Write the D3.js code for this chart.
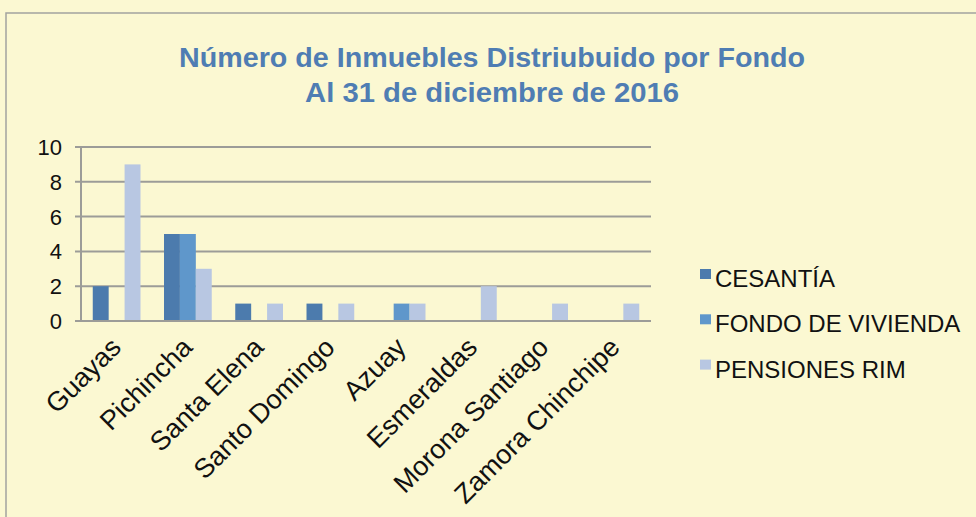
<!DOCTYPE html>
<html>
<head>
<meta charset="utf-8">
<script src="https://cdn.jsdelivr.net/npm/d3@7"></script>
<style>
  body { margin: 0; background: #fbf8d2; }
  svg { display: block; }
</style>
</head>
<body>
<svg width="976" height="517"></svg>
<script>
// Categories and series
var provinces = ["Guayas", "Pichincha", "Santa Elena", "Santo Domingo", "Azuay", "Esmeraldas", "Morona Santiago", "Zamora Chinchipe"];
var seriesNames = ["CESANTÍA", "FONDO DE VIVIENDA", "PENSIONES RIM"];
var cesantia = [2, 5, 1, 1, 0, 0, 0, 0];
var fondoVivienda = [0, 5, 0, 0, 1, 0, 0, 0];
var pensionesRim = [9, 3, 1, 1, 1, 2, 1, 1];
var yTicks = [0, 2, 4, 6, 8, 10];
var colors = ["#4c7bad", "#5f97cb", "#b8c7e2"];

var values = [cesantia, fondoVivienda, pensionesRim];

var svg = d3.select("svg");

// frame
svg.append("path")
  .attr("d", "M6,517 L6,13 L976,13")
  .attr("fill", "none")
  .attr("stroke", "#a3a3a0")
  .attr("stroke-width", 1.5);

// title
var title = [
  { text: "Número de Inmuebles Distriubuido por Fondo", y: 67, w: 626 },
  { text: "Al 31 de diciembre de 2016", y: 102, w: 374 }
];
svg.selectAll(".title").data(title).enter().append("text")
  .attr("class", "title")
  .attr("x", 492)
  .attr("y", function(d) { return d.y; })
  .attr("text-anchor", "middle")
  .attr("textLength", function(d) { return d.w; })
  .attr("lengthAdjust", "spacingAndGlyphs")
  .style("font-family", "'Liberation Sans Narrow', 'Liberation Sans', Arial, sans-serif")
  .style("font-weight", "bold")
  .style("font-size", "27px")
  .style("fill", "#4f7db3")
  .text(function(d) { return d.text; });

var plotLeft = 81, plotRight = 651, plotTop = 147, plotBottom = 321;

var x0 = d3.scaleBand()
  .domain(provinces)
  .range([plotLeft, plotRight])
  .paddingInner(0.33)
  .paddingOuter(0.165);

var x1 = d3.scaleBand()
  .domain(seriesNames)
  .range([0, x0.bandwidth()]);

var y = d3.scaleLinear().domain([0, 10]).range([plotBottom, plotTop]);

// gridlines
svg.append("g").selectAll("line").data(yTicks).enter().append("line")
  .attr("x1", plotLeft - 6).attr("x2", plotRight)
  .attr("y1", function(d) { return y(d); })
  .attr("y2", function(d) { return y(d); })
  .attr("stroke", "#9c9c98")
  .attr("stroke-width", 2);

// y axis line
svg.append("line")
  .attr("x1", plotLeft).attr("x2", plotLeft)
  .attr("y1", plotTop).attr("y2", plotBottom)
  .attr("stroke", "#9c9c98")
  .attr("stroke-width", 2);

// y tick labels
svg.append("g").selectAll("text").data(yTicks).enter().append("text")
  .attr("x", 62)
  .attr("y", function(d) { return y(d) + 8; })
  .attr("text-anchor", "end")
  .style("font-family", "'Liberation Sans', Arial, sans-serif")
  .style("font-size", "22px")
  .style("fill", "#111")
  .text(function(d) { return d; });

// bars
var groups = svg.append("g").selectAll("g").data(provinces).enter().append("g")
  .attr("transform", function(d) { return "translate(" + x0(d) + ",0)"; });

groups.selectAll("rect")
  .data(function(d, i) {
    return seriesNames.map(function(s, j) { return { s: s, j: j, v: values[j][i] }; });
  })
  .enter().append("rect")
  .attr("x", function(d) { return x1(d.s); })
  .attr("width", x1.bandwidth())
  .attr("y", function(d) { return y(d.v); })
  .attr("height", function(d) { return plotBottom - y(d.v); })
  .attr("fill", function(d) { return colors[d.j]; });

// x axis line on top of bars
svg.append("line")
  .attr("x1", plotLeft - 6).attr("x2", plotRight)
  .attr("y1", plotBottom).attr("y2", plotBottom)
  .attr("stroke", "#9c9c98")
  .attr("stroke-width", 2);

// x labels
svg.append("g").selectAll("text").data(provinces).enter().append("text")
  .attr("transform", function(d) {
    return "translate(" + (x0(d) + x0.bandwidth() / 2 + 6) + "," + (plotBottom + 28) + ") rotate(-45)";
  })
  .attr("text-anchor", "end")
  .style("font-family", "'Liberation Sans', Arial, sans-serif")
  .style("font-size", "27px")
  .style("fill", "#111")
  .text(function(d) { return d; });

// legend
var legend = svg.append("g").selectAll("g").data(seriesNames).enter().append("g")
  .attr("transform", function(d, i) { return "translate(700," + (287 + i * 45.3) + ")"; });

legend.append("rect")
  .attr("x", 0).attr("y", -18)
  .attr("width", 11).attr("height", 10)
  .attr("fill", function(d, i) { return colors[i]; });

legend.append("text")
  .attr("x", 15).attr("y", 0)
  .style("font-family", "'Liberation Sans', Arial, sans-serif")
  .style("font-size", "24px")
  .style("fill", "#111")
  .text(function(d) { return d; });
</script>
</body>
</html>
